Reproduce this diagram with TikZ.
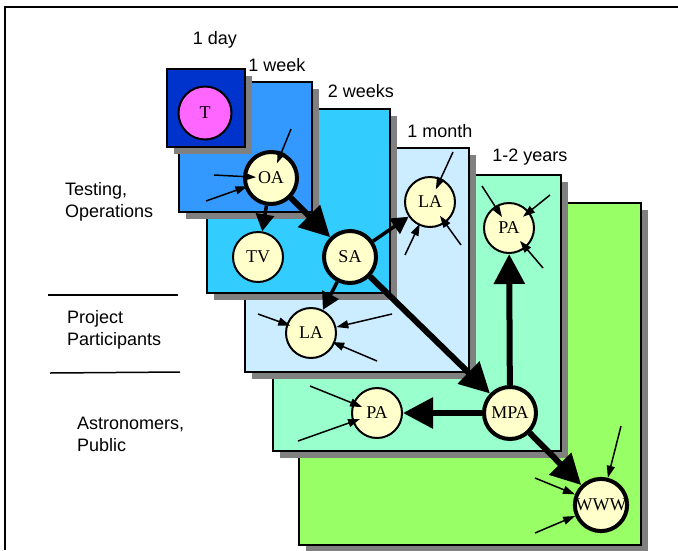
\documentclass[tikz,border=0pt]{standalone}
\usepackage{fontspec}
\setmainfont{Liberation Serif}
\setsansfont{Liberation Sans}
\usetikzlibrary{arrows.meta,shadows}

\definecolor{dayblue}{HTML}{0033CC}
\definecolor{weekblue}{HTML}{3399FF}
\definecolor{fortblue}{HTML}{33CCFF}
\definecolor{monthblue}{HTML}{CCECFF}
\definecolor{yearmint}{HTML}{99FFCC}
\definecolor{webgreen}{HTML}{99FF66}
\definecolor{cream}{HTML}{FFFFCC}
\definecolor{pink}{HTML}{FF66FF}

\begin{document}
\begin{tikzpicture}[x=1pt,y=-1pt,>=Latex]
  \tikzstyle{box}=[draw,line width=2pt,inner sep=0pt,general shadow={fill=black!50,shadow xshift=7pt,shadow yshift=-7pt}]
  \tikzstyle{ball}=[circle,draw,line width=2pt,fill=cream,minimum size=50pt,inner sep=0pt,font=\fontsize{18}{18}\selectfont]
  \tikzstyle{hub}=[ball,line width=4pt,minimum size=52pt]
  \tikzstyle{tag}=[inner sep=0pt,align=left,font=\sffamily\fontsize{18}{22}\selectfont]
  \tikzstyle{flow}=[-{Triangle[length=30pt,width=30pt]},line width=6pt]
  \tikzstyle{link}=[-{Triangle[length=17pt,width=18pt]},line width=3.5pt]
  \tikzstyle{feed}=[-{Triangle[length=12pt,width=8pt]},line width=1.5pt]
  \useasboundingbox (0,0) rectangle (678,550);
  \draw[line width=2pt] (5,550) -- (5,7) -- (678,7);
  % time boxes, back to front
  \node[box,fill=webgreen,minimum width=342pt,minimum height=342pt] (web) at (470,374) {};
  \node[box,fill=yearmint,minimum width=288pt,minimum height=276pt] (years) at (417,313) {};
  \node[box,fill=monthblue,minimum width=224pt,minimum height=224pt] (month) at (357,260) {};
  \node[box,fill=fortblue,minimum width=183pt,minimum height=184pt] (weeks) at (298.5,201) {};
  \node[box,fill=weekblue,minimum width=133pt,minimum height=130pt] (week) at (245.5,147) {};
  \node[box,fill=dayblue,minimum width=78pt,minimum height=78pt] (day) at (206,108) {};
  \node[tag] (tday) at (215,40) {1 day};
  \node[tag] (tweek) at (277,65) {1 week};
  \node[tag] (tweeks) at (361,91) {2 weeks};
  \node[tag] (tmonth) at (440,131) {1 month};
  \node[tag] (tyears) at (530,157) {1-2 years};
  % audiences
  \node[tag,anchor=west] (ops) at (65,202) {Testing,\\Operations};
  \node[tag,anchor=west] (part) at (67,330) {Project\\Participants};
  \node[tag,anchor=west] (pub) at (77,434) {Astronomers,\\Public};
  \draw[line width=1.5pt] (48,295) -- (178,295);
  \draw[line width=1.5pt] (50,373) -- (180,372);
  % archives
  \node[ball,fill=pink,minimum size=53pt] (T) at (205,113) {T};
  \node[hub] (OA) at (271,178) {OA};
  \node[ball] (TV) at (258,257) {TV};
  \node[hub] (SA) at (350,257) {SA};
  \node[ball] (LAm) at (430,202) {LA};
  \node[ball] (LAp) at (311,333) {LA};
  \node[ball] (PAy) at (509,228) {PA};
  \node[ball] (PAp) at (377,413) {PA};
  \node[hub] (MPA) at (510,413) {MPA};
  \node[hub] (WWW) at (601,505) {WWW};
  \draw[flow] (OA) -- (SA);
  \draw[flow] (SA) -- (MPA);
  \draw[flow] (MPA) -- (PAy);
  \draw[flow] (MPA) -- (PAp);
  \draw[flow] (MPA) -- (WWW);
  \draw[link] (OA) -- (TV);
  \draw[link] (SA) -- (LAm);
  \draw[link] (SA) -- (LAp);
  % incoming data
  \coordinate (oa1) at (291,129);
  \coordinate (oa2) at (214,175);
  \coordinate (oa3) at (206,201);
  \coordinate (lam1) at (453,152);
  \coordinate (lam2) at (461,245);
  \coordinate (lam3) at (405,255);
  \coordinate (pay1) at (482,186);
  \coordinate (pay2) at (550,195);
  \coordinate (pay3) at (543,268);
  \coordinate (lap1) at (258,314);
  \coordinate (lap2) at (392,314);
  \coordinate (lap3) at (377,361);
  \coordinate (pap1) at (310,386);
  \coordinate (pap2) at (298,441);
  \coordinate (www1) at (621,426);
  \coordinate (www2) at (535,478);
  \coordinate (www3) at (535,533);
  \draw[feed,shorten >=-12pt] (oa1) -- (OA);
  \draw[feed,shorten >=-13pt] (oa2) -- (OA);
  \draw[feed,shorten >=-3pt] (oa3) -- (OA);
  \draw[feed,shorten >=-12pt] (lam1) -- (LAm);
  \draw[feed,shorten >=-9pt] (lam2) -- (LAm);
  \draw[feed,shorten >=-2pt] (lam3) -- (LAm);
  \draw[feed,shorten >=-13pt] (pay1) -- (PAy);
  \draw[feed,shorten >=-8pt] (pay2) -- (PAy);
  \draw[feed,shorten >=-9pt] (pay3) -- (PAy);
  \draw[feed,shorten >=-4pt] (lap1) -- (LAp);
  \draw[feed] (lap2) -- (LAp);
  \draw[feed,shorten >=-3pt] (lap3) -- (LAp);
  \draw[feed,shorten >=-10pt] (pap1) -- (PAp);
  \draw[feed,shorten >=-8pt] (pap2) -- (PAp);
  \draw[feed] (www1) -- (WWW);
  \draw[feed] (www2) -- (WWW);
  \draw[feed] (www3) -- (WWW);
\end{tikzpicture}
\end{document}
